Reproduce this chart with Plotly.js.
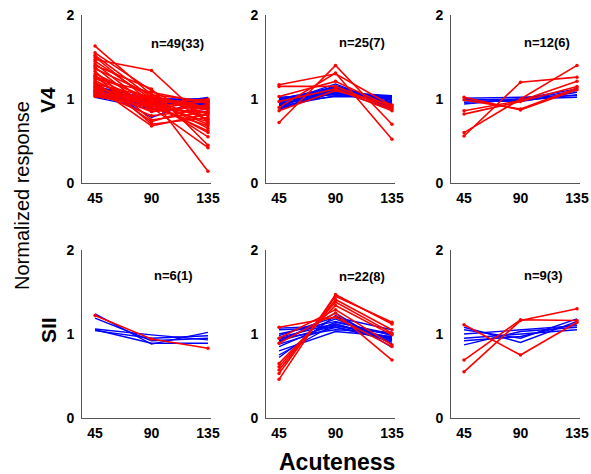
<!DOCTYPE html>
<html><head><meta charset="utf-8">
<script src="https://cdn.plot.ly/plotly-3.0.1.min.js"></script>
<style>html,body{margin:0;padding:0;background:#fff}#c{width:591px;height:474px}</style>
</head><body><div id="c"></div>
<script>
const acuteness = [45, 90, 135];
const xTickLabels = ['45', '90', '135'];
const yTickVals = [0, 1, 2];
const panelLabels = ['n=49(33)', 'n=25(7)', 'n=12(6)', 'n=6(1)', 'n=22(8)', 'n=9(3)'];
const rowLabels = ['V4', 'SII'];

const v4aRed = [
 [1.63,1.05,0.82],[1.55,1.10,0.75],[1.52,1.02,0.14],[1.50,0.95,0.60],[1.47,1.34,0.72],
 [1.45,1.00,0.88],[1.42,0.90,0.68],[1.40,1.12,0.45],[1.38,0.85,0.92],[1.36,1.05,0.97],
 [1.33,0.75,0.85],[1.30,0.98,0.55],[1.28,0.70,0.78],[1.27,1.00,0.90],[1.25,0.93,0.62],
 [1.24,1.08,0.95],[1.22,0.88,0.98],[1.20,0.73,0.93],[1.19,0.97,0.70],[1.18,1.02,0.87],
 [1.16,0.90,0.42],[1.15,0.68,0.82],[1.14,0.95,1.00],[1.12,1.00,0.65],[1.11,0.85,0.93],
 [1.10,0.92,0.80],[1.09,0.99,0.76],[1.08,0.80,0.88],[1.07,0.96,0.96],[1.06,0.89,0.84],
 [1.05,1.03,0.90],[1.04,0.94,0.73],[1.03,0.91,0.98]];
const v4aBlue = [
 [1.18,0.78,1.02],[1.16,0.95,0.98],[1.15,1.00,0.95],[1.13,0.92,1.00],[1.12,0.98,0.90],
 [1.11,0.96,0.97],[1.10,0.90,1.01],[1.09,0.97,0.93],[1.08,1.00,0.99],[1.07,0.94,0.96],
 [1.06,0.99,0.88],[1.05,0.93,1.02],[1.04,0.98,0.94],[1.03,0.96,0.98],[1.02,1.00,1.00],
 [1.02,0.88,0.85]];
const v4bRed = [
 [0.72,1.40,0.70],[0.90,1.31,0.52],[1.17,1.30,0.92],[1.15,1.15,0.88],
 [1.03,1.21,0.90],[0.97,1.12,0.86],[0.86,1.10,0.93]];
const v4bBlue = [
 [1.02,1.05,1.03],[1.01,1.10,1.02],[1.00,1.08,1.04],[0.99,1.12,0.98],[0.98,1.06,1.00],
 [0.97,1.15,0.95],[0.96,1.09,1.01],[0.95,1.18,0.92],[0.94,1.07,0.97],[0.93,1.11,0.99],
 [0.92,1.13,0.90],[0.91,1.04,1.03],[0.90,1.16,0.94],[0.89,1.10,0.88],[0.88,1.08,0.96],
 [0.95,1.03,1.02],[1.00,1.14,0.93],[0.87,1.12,0.91]];
const v4cRed = [
 [0.56,1.20,1.26],[0.60,1.00,1.40],[1.02,0.87,1.11],
 [0.86,0.98,1.21],[0.82,0.97,1.15],[0.99,0.88,1.13]];
const v4cBlue = [
 [1.00,0.98,1.05],[0.99,1.00,1.02],[0.98,0.97,1.08],
 [0.96,0.99,1.10],[0.94,1.00,1.12],[1.01,1.02,1.04]];
const siiaRed = [[1.22,0.94,0.83]];
const siiaBlue = [
 [1.24,0.88,1.02],[1.19,0.92,0.95],[1.06,0.99,0.93],[1.05,0.89,0.89],[1.04,0.95,0.98]];
const siibRed = [
 [0.46,1.47,1.12],[0.53,1.45,1.14],[0.57,1.41,1.05],[0.61,1.38,1.01],
 [0.65,1.34,0.99],[0.89,1.25,0.69],[1.08,1.20,0.85],[0.95,1.29,0.87]];
const siibBlue = [
 [1.07,1.10,1.00],[1.05,1.08,0.95],[1.00,1.15,0.98],[0.98,1.20,1.05],[0.96,1.12,0.93],
 [0.95,1.05,1.02],[0.93,1.18,0.90],[0.92,1.10,0.96],[0.90,1.25,0.84],[0.88,1.08,0.92],
 [0.85,1.14,1.00],[0.80,1.03,0.97],[0.75,1.12,0.94],[0.72,1.22,0.88]];
const siicRed = [[1.11,0.75,1.14],[0.55,1.16,1.30],[0.69,1.17,1.16]];
const siicBlue = [
 [1.08,0.90,1.15],[1.05,0.95,1.18],[1.00,1.05,1.10],
 [0.95,1.00,1.05],[0.92,0.97,1.12],[0.87,1.03,1.08]];

const panels = [
 {red: v4aRed, blue: v4aBlue}, {red: v4bRed, blue: v4bBlue}, {red: v4cRed, blue: v4cBlue},
 {red: siiaRed, blue: siiaBlue}, {red: siibRed, blue: siibBlue}, {red: siicRed, blue: siicBlue}];

const W = 591, H = 474;
const colLeft = [82, 266, 451];
const colRight = [210.5, 394.5, 579.5];
const rowTop = [15, 250];
const rowBottom = [183, 418];

const traces = [];
const layout = {
  width: W, height: H, margin: {l:0, r:0, t:0, b:0},
  paper_bgcolor: '#fff', plot_bgcolor: '#fff', showlegend: false,
  font: {family: 'Liberation Sans, Arial, sans-serif', color: '#000'},
  annotations: []
};

panels.forEach((p, i) => {
  const col = i % 3, row = Math.floor(i / 3);
  const xa = 'x' + (i === 0 ? '' : i + 1), ya = 'y' + (i === 0 ? '' : i + 1);
  p.blue.forEach(v => traces.push({x: acuteness, y: v, xaxis: xa, yaxis: ya, type: 'scatter',
    mode: 'lines', line: {color: '#0000ff', width: 1.4}, hoverinfo: 'skip'}));
  p.red.forEach(v => traces.push({x: acuteness, y: v, xaxis: xa, yaxis: ya, type: 'scatter',
    mode: 'lines+markers', line: {color: '#ff0000', width: 1.6}, marker: {color: '#ff0000', size: 3.5},
    cliponaxis: false, hoverinfo: 'skip'}));
  const axBase = {showgrid: false, zeroline: false, showline: true, linecolor: '#555', linewidth: 1,
    ticks: '', tickfont: {size: 14, family: 'Liberation Sans, Arial, sans-serif', weight: 'bold', color: '#000'}, fixedrange: true};
  layout['xaxis' + (i === 0 ? '' : i + 1)] = Object.assign({}, axBase, {
    domain: [colLeft[col] / W, colRight[col] / W], range: [34.6, 137],
    tickvals: acuteness, ticktext: xTickLabels, anchor: ya, ticklabelstandoff: 2});
  layout['yaxis' + (i === 0 ? '' : i + 1)] = Object.assign({}, axBase, {
    domain: [1 - rowBottom[row] / H, 1 - rowTop[row] / H], range: [0, 2],
    tickvals: yTickVals, anchor: xa, ticklabelstandoff: 4});
});

const annPos = [[177, 43], [362, 42], [547, 42], [173, 275], [362, 276], [543, 275]];
panelLabels.forEach((t, i) => layout.annotations.push({
  text: '<b>' + t + '</b>', xref: 'paper', yref: 'paper', x: annPos[i][0] / W, y: 1 - annPos[i][1] / H,
  xanchor: 'center', yanchor: 'middle', showarrow: false, font: {size: 13, color: '#000'}}));
const rowLabelY = [100, 330];
rowLabels.forEach((t, i) => layout.annotations.push({
  text: '<b>' + t + '</b>', xref: 'paper', yref: 'paper', x: 48 / W, y: 1 - rowLabelY[i] / H,
  xanchor: 'center', yanchor: 'middle', textangle: -90, showarrow: false, font: {size: 21, color: '#000'}}));
layout.annotations.push({text: 'Normalized response', xref: 'paper', yref: 'paper', x: 22 / W, y: 1 - 196 / H,
  xanchor: 'center', yanchor: 'middle', textangle: -90, showarrow: false, font: {size: 20, color: '#000'}});
layout.annotations.push({text: '<b>Acuteness</b>', xref: 'paper', yref: 'paper', x: 337 / W, y: 1 - 462 / H,
  xanchor: 'center', yanchor: 'middle', showarrow: false, font: {size: 23, color: '#000'}});

Plotly.newPlot('c', traces, layout, {displayModeBar: false, staticPlot: true});
</script></body></html>
